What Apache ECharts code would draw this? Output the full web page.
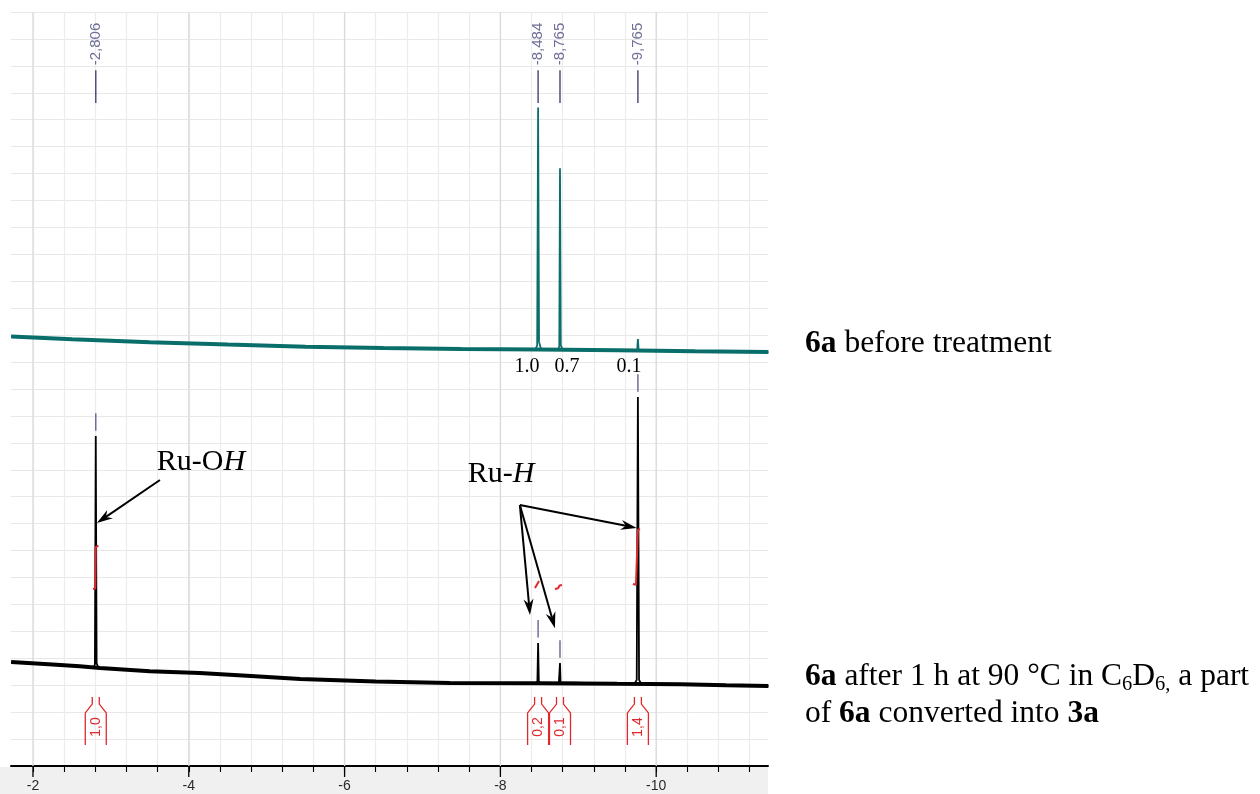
<!DOCTYPE html>
<html><head><meta charset="utf-8">
<script src="https://cdn.jsdelivr.net/npm/echarts@6/dist/echarts.min.js"></script>
<style>html,body{margin:0;padding:0;background:#fff}#c{width:1260px;height:794px}</style>
</head><body><div id="c"></div>
<script>
// ---- axis tick labels (ppm) ----
const majorTicks = [-2, -4, -6, -8, -10];
const minorTicks = [-2, -2.4, -2.8, -3.2, -3.6, -4, -4.4, -4.8, -5.2, -5.6, -6, -6.4, -6.8, -7.2, -7.6, -8, -8.4, -8.8, -9.2, -9.6, -10, -10.4, -10.8, -11.2];

// ---- picked peaks ----
const peakPpm = [-2.806, -8.484, -8.765, -9.765];
const peakText = ['-2,806', '-8,484', '-8,765', '-9,765'];

// ---- top spectrum: 6a before treatment ----
const topBaseline = [[-1.72,15.95],[-2.5,15.85],[-3.5,15.74],[-4.5,15.65],[-5.5,15.57],[-6.5,15.52],[-7.5,15.49],[-8.5,15.47],[-9.5,15.44],[-10.5,15.40],[-11.44,15.37]];
const topSpectrum = [[-1.72,15.95],[-2.5,15.85],[-3.5,15.74],[-4.5,15.65],[-5.5,15.57],[-6.5,15.52],[-7.5,15.49],[-8.45,15.47],[-8.472,15.62],[-8.484,24.45],[-8.496,15.75],[-8.52,15.5],[-8.745,15.46],[-8.756,15.62],[-8.765,22.2],[-8.775,15.62],[-8.80,15.46],[-9.5,15.44],[-9.755,15.43],[-9.765,15.85],[-9.775,15.43],[-10.5,15.40],[-11.44,15.37]];
const topIntegralPeaks = [-8.484, -8.765, -9.765];
const topIntegralText = ['1.0', '0.7', '0.1'];

// ---- bottom spectrum: after 1 h at 90 °C ----
const bottomBaseline = [[-1.72,3.86],[-2.2,3.78],[-2.6,3.70],[-2.86,3.64],[-3.5,3.52],[-4.14,3.45],[-4.8,3.34],[-5.43,3.23],[-6.4,3.14],[-7.35,3.08],[-8.5,3.07],[-9.5,3.05],[-10.31,3.04],[-10.9,3.0],[-11.44,2.97]];
const bottomSpectrum = [[-1.72,3.86],[-2.2,3.78],[-2.6,3.70],[-2.78,3.66],[-2.795,3.78],[-2.806,12.25],[-2.817,3.82],[-2.84,3.64],[-3.5,3.52],[-4.14,3.45],[-4.8,3.34],[-5.43,3.23],[-6.4,3.14],[-7.35,3.08],[-8.46,3.07],[-8.475,3.15],[-8.484,4.57],[-8.493,3.15],[-8.51,3.07],[-8.75,3.06],[-8.758,3.1],[-8.765,3.82],[-8.772,3.1],[-8.78,3.06],[-9.72,3.05],[-9.75,3.2],[-9.765,13.7],[-9.78,3.2],[-9.81,3.04],[-10.31,3.04],[-10.9,3.0],[-11.44,2.97]];
const bottomPeakTops = [12.25, 4.57, 3.82, 13.7];
const bottomIntegralText = ['1,0', '0,2', '0,1', '1,4'];
const integralCurves = [
  [[-2.77,6.57],[-2.80,6.59],[-2.806,6.62],[-2.806,8.13],[-2.815,8.16],[-2.84,8.18]],
  [[-8.444,6.61],[-8.496,6.87]],
  [[-8.70,6.57],[-8.74,6.60],[-8.76,6.70],[-8.79,6.72]],
  [[-9.70,6.76],[-9.74,6.73],[-9.762,6.72],[-9.765,8.76],[-9.775,8.79],[-9.79,8.81]]
];

// ---- layout (y in plot units, px offsets) ----
const L = {
  labLineTop: 25.84, labLineBot: 24.62, labText: 26.81,
  brTop: 2.56, brNeck: 2.30, brShoulder: 1.97, brBottom: 0.78, brText: 1.45,
  topIntY: 14.82, topIntDx: [-11, 7, -9]
};
const SANS = '"Liberation Sans", Arial, sans-serif';
const SERIF = '"Liberation Serif", "Times New Roman", serif';
const TEAL = '#0a6e6a', PURPLE = '#6e6e98', PURPLE_D = '#50507c', RED = '#e0282d';

const chart = echarts.init(document.getElementById('c'), null, {renderer: 'canvas'});

const series = [];
// major grid lines + long ticks
series.push({
  type: 'custom', silent: true, z: 1, clip: false,
  data: majorTicks.map(v => [v, 0]),
  renderItem: (p, api) => {
    const a = api.coord([api.value(0), 0]), b = api.coord([api.value(0), 28]);
    return {type: 'group', children: [
      {type: 'line', shape: {x1: a[0], y1: a[1], x2: b[0], y2: b[1]}, style: {stroke: '#dadada', lineWidth: 1.3}},
      {type: 'line', shape: {x1: a[0], y1: a[1], x2: a[0], y2: a[1] + 11}, style: {stroke: '#000', lineWidth: 1.3}}
    ]};
  }
});
series.push({type: 'line', data: topBaseline, symbol: 'none', silent: true, z: 3, lineStyle: {color: TEAL, width: 4}});
series.push({type: 'line', data: topSpectrum, symbol: 'none', silent: true, z: 3, lineStyle: {color: TEAL, width: 1.8}});
series.push({type: 'line', data: bottomBaseline, symbol: 'none', silent: true, z: 3, lineStyle: {color: '#000', width: 4}});
series.push({type: 'line', data: bottomSpectrum, symbol: 'none', silent: true, z: 3, lineStyle: {color: '#000', width: 1.8}});
integralCurves.forEach(c => series.push({type: 'line', data: c, symbol: 'none', silent: true, z: 4, lineStyle: {color: RED, width: 2}}));
// peak labels at the top
series.push({
  type: 'custom', silent: true, z: 5,
  data: peakPpm.map((v, i) => [v, i]),
  renderItem: (p, api) => {
    const v = api.value(0);
    const a = api.coord([v, L.labLineTop]), b = api.coord([v, L.labLineBot]), t = api.coord([v, L.labText]);
    return {type: 'group', children: [
      {type: 'line', shape: {x1: a[0], y1: a[1], x2: b[0], y2: b[1]}, style: {stroke: PURPLE_D, lineWidth: 1.5}},
      {type: 'text', x: t[0], y: t[1], rotation: Math.PI / 2,
       style: {text: peakText[p.dataIndex], fill: PURPLE, font: '15px ' + SANS, align: 'center', verticalAlign: 'middle'}}
    ]};
  }
});
// peak-pick markers above bottom peaks
series.push({
  type: 'custom', silent: true, z: 5,
  data: peakPpm.map((v, i) => [v, bottomPeakTops[i]]),
  renderItem: (p, api) => {
    const v = api.value(0), h = api.value(1);
    const a = api.coord([v, h + 0.2]), b = api.coord([v, h + 0.85]);
    return {type: 'line', shape: {x1: a[0], y1: a[1], x2: b[0], y2: b[1]}, style: {stroke: PURPLE, lineWidth: 1.5}};
  }
});
// integration brackets at the bottom
series.push({
  type: 'custom', silent: true, z: 5, clip: false,
  data: peakPpm.map((v, i) => [v, i]),
  renderItem: (p, api) => {
    const c = api.coord([api.value(0), 0])[0];
    const yT = api.coord([0, L.brTop])[1], yN = api.coord([0, L.brNeck])[1], yS = api.coord([0, L.brShoulder])[1], yB = api.coord([0, L.brBottom])[1], yX = api.coord([0, L.brText])[1];
    const st = {stroke: RED, lineWidth: 1.3, fill: null};
    return {type: 'group', children: [
      {type: 'polyline', shape: {points: [[c - 3.5, yT], [c - 3.5, yN], [c - 10.5, yS], [c - 10.5, yB]]}, style: st},
      {type: 'polyline', shape: {points: [[c + 3.5, yT], [c + 3.5, yN], [c + 10.5, yS], [c + 10.5, yB]]}, style: st},
      {type: 'text', x: c, y: yX, rotation: Math.PI / 2,
       style: {text: bottomIntegralText[p.dataIndex], fill: RED, font: '14px ' + SANS, align: 'center', verticalAlign: 'middle'}}
    ]};
  }
});
// integral values of the top spectrum
series.push({
  type: 'custom', silent: true, z: 5,
  data: topIntegralPeaks.map((v, i) => [v, i]),
  renderItem: (p, api) => {
    const t = api.coord([api.value(0), L.topIntY]);
    return {type: 'text', x: t[0] + L.topIntDx[p.dataIndex], y: t[1],
      style: {text: topIntegralText[p.dataIndex], fill: '#000', font: '20px ' + SERIF, align: 'center', verticalAlign: 'middle'}};
  }
});

const option = {
  animation: false,
  backgroundColor: '#fff',
  grid: {left: 11, right: 492, top: 12, bottom: 28, containLabel: false},
  xAxis: {
    type: 'value', inverse: true, min: -11.435, max: -1.718,
    axisLine: {show: true, lineStyle: {color: '#000', width: 2}},
    axisTick: {show: true, customValues: minorTicks, length: 6, lineStyle: {color: '#000', width: 1.1}},
    axisLabel: {show: true, customValues: majorTicks, margin: 13, color: '#2a2a2a', fontSize: 14, fontFamily: SANS},
    splitLine: {show: true, lineStyle: {color: '#ececec', width: 1.2}}
  },
  yAxis: {
    type: 'value', min: 0, max: 28, interval: 1,
    axisLine: {show: false}, axisTick: {show: false}, axisLabel: {show: false},
    splitLine: {show: true, lineStyle: {color: '#e8e8e8', width: 1.2}}
  },
  series: series
};
chart.setOption(option);

// ---- annotations ----
const ANN = {
  ruOHText: [-3.59, 11.29],
  ruOHArrow: [[-3.63, 10.62], [-2.82, 9.02]],
  ruHText: [-7.58, 10.84],
  ruHFrom: [-8.25, 9.69],
  ruHTo: [[-8.38, 5.61], [-8.70, 5.12], [-9.75, 8.84]]
};
const px = d => chart.convertToPixel({gridIndex: 0}, d);
function arrowEls(d0, d1) {
  const p0 = px(d0), p1 = px(d1);
  const dx = p1[0] - p0[0], dy = p1[1] - p0[1], len = Math.hypot(dx, dy);
  const ux = dx / len, uy = dy / len, nx = -uy, ny = ux;
  const Lh = 16, W = 5, N = 11;
  const base = [p1[0] - ux * Lh, p1[1] - uy * Lh], notch = [p1[0] - ux * N, p1[1] - uy * N];
  return [
    {type: 'line', shape: {x1: p0[0], y1: p0[1], x2: notch[0], y2: notch[1]}, style: {stroke: '#000', lineWidth: 2}, z: 20},
    {type: 'polygon', shape: {points: [p1, [base[0] + nx * W, base[1] + ny * W], notch, [base[0] - nx * W, base[1] - ny * W]]}, style: {fill: '#000'}, z: 20}
  ];
}
const g = [];
g.push({type: 'rect', shape: {x: 0, y: 767, width: 768, height: 27}, style: {fill: '#f0f0f0'}, z: -10});
const t1 = px(ANN.ruOHText);
g.push({type: 'text', x: t1[0], y: t1[1], z: 20, style: {text: '{n|Ru-O}{i|H}', align: 'left', verticalAlign: 'middle',
  rich: {n: {fontFamily: SERIF, fontSize: 30, fill: '#000'}, i: {fontFamily: SERIF, fontSize: 30, fontStyle: 'italic', fill: '#000'}}}});
g.push(...arrowEls(ANN.ruOHArrow[0], ANN.ruOHArrow[1]));
const t2 = px(ANN.ruHText);
g.push({type: 'text', x: t2[0], y: t2[1], z: 20, style: {text: '{n|Ru-}{i|H}', align: 'left', verticalAlign: 'middle',
  rich: {n: {fontFamily: SERIF, fontSize: 30, fill: '#000'}, i: {fontFamily: SERIF, fontSize: 30, fontStyle: 'italic', fill: '#000'}}}});
ANN.ruHTo.forEach(d => g.push(...arrowEls(ANN.ruHFrom, d)));

const richSide = {
  b: {fontFamily: SERIF, fontSize: 31.5, fontWeight: 'bold', fill: '#000', lineHeight: 37},
  n: {fontFamily: SERIF, fontSize: 31.5, fill: '#000', lineHeight: 37},
  s: {fontFamily: SERIF, fontSize: 20.5, fill: '#000', verticalAlign: 'bottom'}
};
g.push({type: 'text', x: 805, y: 344, style: {text: '{b|6a}{n| before treatment}', align: 'left', verticalAlign: 'middle', rich: richSide}});
g.push({type: 'text', x: 805, y: 677, style: {text: '{b|6a}{n| after 1 h at 90 °C in C}{s|6}{n|D}{s|6,}{n| a part}', align: 'left', verticalAlign: 'middle', rich: richSide}});
g.push({type: 'text', x: 805, y: 714, style: {text: '{n|of }{b|6a}{n| converted into }{b|3a}', align: 'left', verticalAlign: 'middle', rich: richSide}});
chart.setOption({graphic: {elements: g}});
</script>
</body></html>
